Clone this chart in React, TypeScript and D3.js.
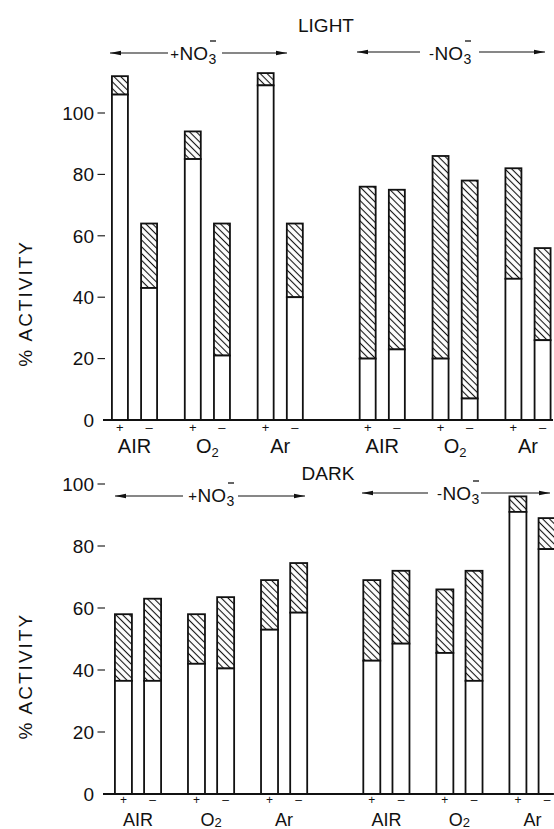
import React from "react";
import * as d3 from "d3";

// ---- data ----
const nitrateSets = ["+", "-"]; // +NO3- / -NO3-
const conditions = ["AIR", "O2", "Ar"];
const signs = ["+", "-"];
const yTicks = [0, 20, 40, 60, 80, 100];

// order: nitrate set x condition x sign
const lightTotal = [112, 64, 94, 64, 113, 64, 76, 75, 86, 78, 82, 56];
const lightBase = [106, 43, 85, 21, 109, 40, 20, 23, 20, 7, 46, 26];
const darkTotal = [58, 63, 58, 63.5, 69, 74.5, 69, 72, 66, 72, 96, 89];
const darkBase = [36.5, 36.5, 42, 40.5, 53, 58.5, 43, 48.5, 45.5, 36.5, 91, 79];

const FONT = "'Liberation Sans', Arial, sans-serif";

type Panel = {
  title: string;
  total: number[];
  base: number[];
  y0: number;
  y100: number;
  xFirst: number;
  xLast: number;
  barW: number;
  titleX: number;
  titleY: number;
  arrows: { x1: number; x2: number; y: number; textEnd: number; gapL: number; gapR: number; base: number; sign: string }[];
  signDy: number;
  signSize: number;
  labelDy: number;
  labelSize: number;
  subDy: number;
};

const panels: Panel[] = [
  {
    title: "LIGHT",
    total: lightTotal,
    base: lightBase,
    y0: 420,
    y100: 113,
    xFirst: 134.5,
    xLast: 528,
    barW: 16,
    titleX: 326,
    titleY: 32,
    arrows: [
      { x1: 110, x2: 287, y: 53, textEnd: 208, gapL: 168, gapR: 222, base: 60, sign: "+" },
      { x1: 357, x2: 545, y: 52, textEnd: 463, gapL: 420, gapR: 479, base: 60, sign: "-" },
    ],
    signDy: 12,
    signSize: 13,
    labelDy: 33,
    labelSize: 20,
    subDy: 4,
  },
  {
    title: "DARK",
    total: darkTotal,
    base: darkBase,
    y0: 794,
    y100: 484,
    xFirst: 138,
    xLast: 532.5,
    barW: 17,
    titleX: 328,
    titleY: 480,
    arrows: [
      { x1: 115, x2: 305, y: 496, textEnd: 226, gapL: 183, gapR: 238, base: 502, sign: "+" },
      { x1: 362, x2: 550, y: 493, textEnd: 471, gapL: 428, gapR: 481, base: 500, sign: "-" },
    ],
    signDy: 10,
    signSize: 12,
    labelDy: 32,
    labelSize: 18,
    subDy: 1,
  },
];

function Arrow({ x1, x2, y, dir }: { x1: number; x2: number; y: number; dir: number }) {
  // dir: -1 arrowhead at x1 pointing left, +1 arrowhead at x2 pointing right
  const tip = dir < 0 ? x1 : x2;
  const back = tip - dir * 11;
  return (
    <g>
      <line x1={x1} x2={x2} y1={y} y2={y} stroke="#111" strokeWidth={1.1} />
      <path d={`M${tip},${y} L${back},${y - 2.2} L${back},${y + 2.2} Z`} fill="#111" />
    </g>
  );
}

function NO3Label({ textEnd, base, sign }: { textEnd: number; base: number; sign: string }) {
  return (
    <g fill="#111" fontFamily={FONT}>
      <text x={textEnd - 29} y={base - 1} fontSize={15} textAnchor="end">
        {sign === "+" ? "+" : "-"}
      </text>
      <text x={textEnd} y={base} fontSize={19} textAnchor="end">
        NO
      </text>
      <text x={textEnd + 0.5} y={base + 4} fontSize={14}>
        3
      </text>
      <line x1={textEnd + 2} x2={textEnd + 8} y1={base - 19} y2={base - 19} stroke="#111" strokeWidth={1.3} />
    </g>
  );
}

function PanelView({ p }: { p: Panel }) {
  const y = d3.scaleLinear().domain([0, 100]).range([p.y0, p.y100]);
  const x = d3.scaleLinear().domain([0, 5.4]).range([p.xFirst, p.xLast]);
  const inner = d3.scaleBand().domain(signs).range([-24.5, 24.5]).paddingInner(0.32).paddingOuter(0);

  const bars: { cx: number; total: number; base: number; sign: string }[] = [];
  const groups: { cx: number; cond: string }[] = [];
  nitrateSets.forEach((_, si) => {
    conditions.forEach((cond, ci) => {
      const pc = x(si * 3.4 + ci);
      groups.push({ cx: pc, cond });
      signs.forEach((s, ki) => {
        const idx = si * 6 + ci * 2 + ki;
        const bx = pc + (inner(s) as number) + inner.bandwidth() / 2;
        bars.push({ cx: bx, total: p.total[idx], base: p.base[idx], sign: s });
      });
    });
  });

  const axisLeft = 103;
  const axisRight = 553;

  return (
    <g>
      {/* title */}
      <text x={p.titleX} y={p.titleY} fontSize={19} fontFamily={FONT} textAnchor="middle" fill="#111">
        {p.title}
      </text>
      {/* arrows */}
      {p.arrows.map((a, i) => (
        <g key={i}>
          <Arrow x1={a.x1} x2={a.gapL} y={a.y} dir={-1} />
          <Arrow x1={a.gapR} x2={a.x2} y={a.y} dir={1} />
          <NO3Label textEnd={a.textEnd} base={a.base} sign={a.sign} />
        </g>
      ))}
      {/* y ticks */}
      {yTicks.map((t) => (
        <g key={t}>
          <text
            x={94}
            y={y(t)}
            dy="0.36em"
            fontSize={19}
            fontFamily={FONT}
            textAnchor="end"
            fill="#111"
          >
            {t}
          </text>
          {t > 0 && <line x1={97.5} x2={105} y1={y(t)} y2={y(t)} stroke="#111" strokeWidth={1.1} />}
        </g>
      ))}
      {/* y label */}
      <text
        transform={`translate(${32},${y(38)}) rotate(-90)`}
        fontSize={19}
        fontFamily={FONT}
        textAnchor="middle"
        letterSpacing={2}
        fill="#111"
      >
        % ACTIVITY
      </text>
      {/* bars */}
      {bars.map((b, i) => {
        const x0 = b.cx - p.barW / 2;
        return (
          <g key={i}>
            <rect
              x={x0}
              y={y(b.total)}
              width={p.barW}
              height={y(b.base) - y(b.total)}
              fill="url(#hatch)"
              stroke="#111"
              strokeWidth={1.8}
            />
            <rect
              x={x0}
              y={y(b.base)}
              width={p.barW}
              height={y(0) - y(b.base)}
              fill="#fff"
              stroke="#111"
              strokeWidth={1.8}
            />
            <text
              x={b.cx}
              y={y(0) + p.signDy}
              fontSize={p.signSize}
              fontFamily={FONT}
              textAnchor="middle"
              fill="#111"
            >
              {b.sign === "+" ? "+" : "\u2013"}
            </text>
          </g>
        );
      })}
      {/* baseline */}
      <line x1={axisLeft} x2={axisRight} y1={y(0)} y2={y(0)} stroke="#111" strokeWidth={2} />
      {/* condition labels */}
      {groups.map((g, i) => (
        <text
          key={i}
          x={g.cx}
          y={y(0) + p.labelDy}
          fontSize={p.labelSize}
          fontFamily={FONT}
          textAnchor="middle"
          fill="#111"
        >
          {g.cond === "O2" ? (
            <>
              O<tspan fontSize={13} dy={p.subDy}>2</tspan>
            </>
          ) : (
            g.cond
          )}
        </text>
      ))}
    </g>
  );
}

export default function App() {
  return (
    <svg
      width={554}
      height={829}
      style={{ position: "absolute", left: 0, top: 0, background: "#fff" }}
    >
      <defs>
        <pattern
          id="hatch"
          patternUnits="userSpaceOnUse"
          width={4.8}
          height={4.8}
          patternTransform="rotate(-45)"
        >
          <rect width={4.8} height={4.8} fill="#fff" />
          <line x1={2.4} y1={0} x2={2.4} y2={4.8} stroke="#111" strokeWidth={1.1} />
        </pattern>
      </defs>
      <rect width={554} height={829} fill="#fff" />
      {panels.map((p, i) => (
        <PanelView key={i} p={p} />
      ))}
    </svg>
  );
}
